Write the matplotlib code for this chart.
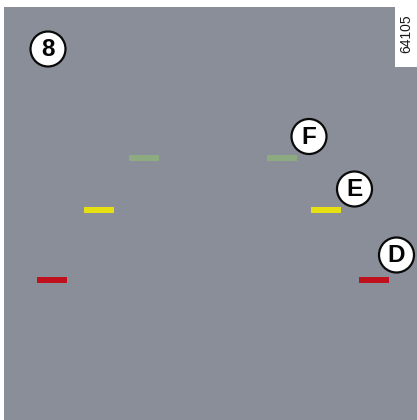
import matplotlib
matplotlib.use("Agg")
import matplotlib.pyplot as plt
from matplotlib.patches import Circle, Rectangle

# Data
labels = ["D", "E", "F"]
bar_y = [279.5, 210, 158]
left_x = [37, 84, 129]
right_x = [359, 311, 267]
bar_len = [30, 30, 30]
bar_colors = ["#c0121c", "#e6df12", "#8daa80"]
label_x = [396.5, 354.5, 309]
label_y = [255, 189, 136.5]
panel_number = "8"
ref_code = "64105"

W, H = 417, 420
fig = plt.figure(figsize=(W / 100, H / 100), dpi=100)
ax = fig.add_axes([0, 0, 1, 1])
ax.set_xlim(0, W)
ax.set_ylim(H, 0)
ax.axis("off")

# background
ax.add_patch(Rectangle((0, 0), W, H, facecolor="white", edgecolor="none", zorder=0))
ax.add_patch(Rectangle((4, 7), W - 4, H - 7, facecolor="#8a8e98", edgecolor="none", zorder=1))
ax.add_patch(Rectangle((395, 0), W - 395, 67, facecolor="white", edgecolor="none", zorder=2))
ax.text(406.5, 34, ref_code, rotation=90, ha="center", va="center", fontsize=10,
        family="Liberation Sans", color="#1a1a1a", zorder=3)

# bars
for y, lx, rx, L, c in zip(bar_y, left_x, right_x, bar_len, bar_colors):
    ax.add_patch(Rectangle((lx, y - 3), L, 6, facecolor=c, edgecolor="none", zorder=3))
    ax.add_patch(Rectangle((rx, y - 3), L, 6, facecolor=c, edgecolor="none", zorder=3))

def badge(x, y, t, r=17.5):
    ax.add_patch(Circle((x, y), r, facecolor="white", edgecolor="#0a0a0a", linewidth=1.6, zorder=4))
    ax.text(x, y + 1, t, ha="center", va="center", fontsize=17.5, fontweight="bold",
            family="Liberation Sans", color="#050505", zorder=5)

badge(48, 49, panel_number)
for t, x, y in zip(labels, label_x, label_y):
    badge(x, y, t)

fig.savefig("out.png", dpi=100)
